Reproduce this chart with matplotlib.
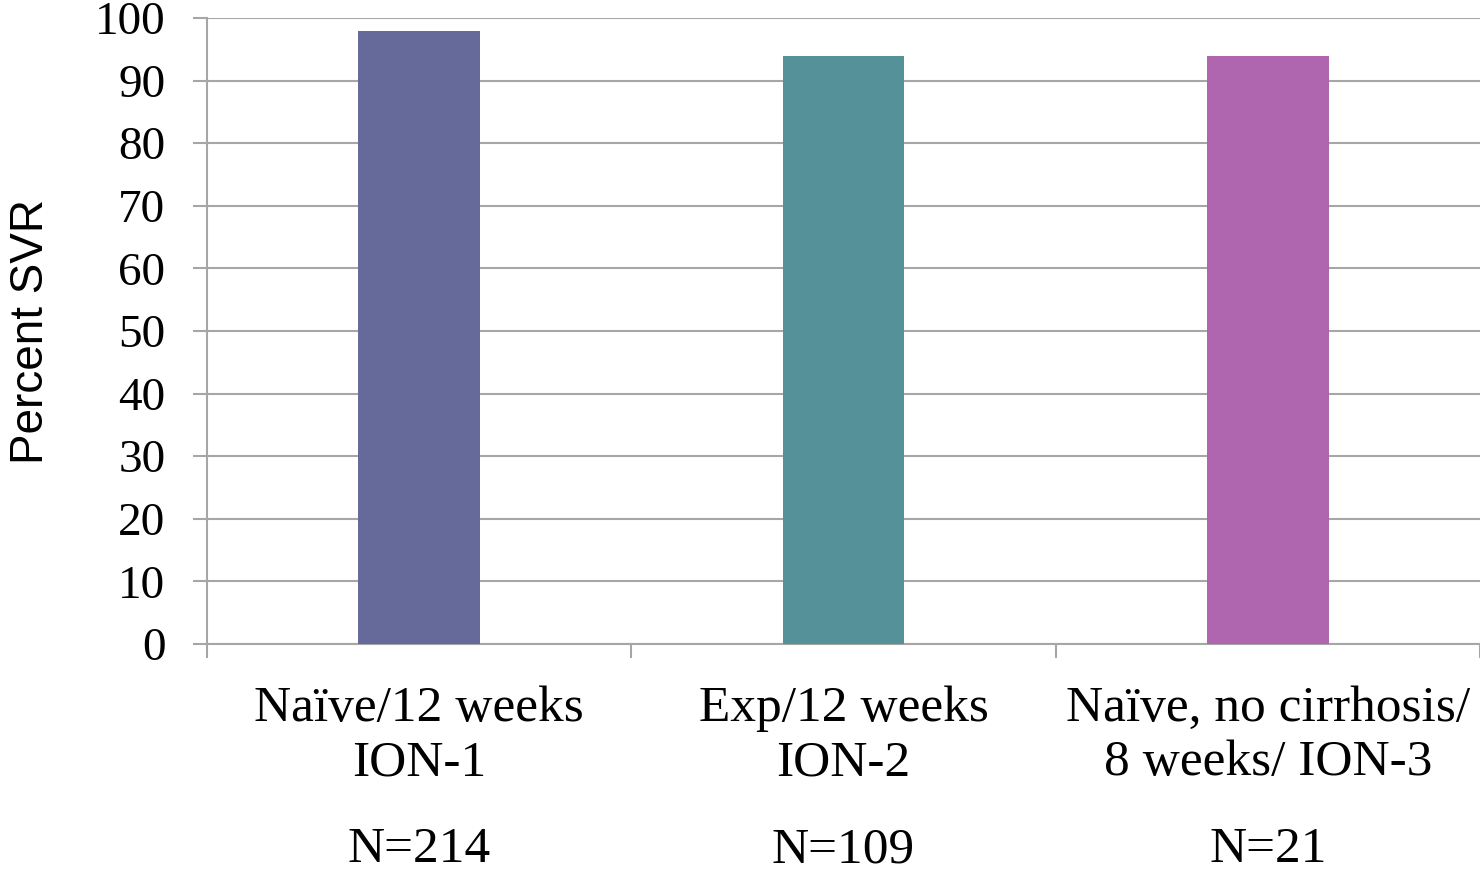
#!/usr/bin/env python3
"""Bar chart of SVR rates across the ION trials."""

import numpy as np
import matplotlib.pyplot as plt
from matplotlib import transforms

categories = ["Naïve/12 weeks\nION-1",
              "Exp/12 weeks\nION-2",
              "Naïve, no cirrhosis/\n8 weeks/ ION-3"]
n_patients = [214, 109, 21]
svr_percent = [98, 94, 94]
bar_colors = ["#666A9A", "#559199", "#B066AF"]
y_ticks = list(range(0, 101, 10))

grid_color = "#A6A6A6"
serif = "Liberation Serif"

fig = plt.figure(figsize=(14.8, 8.8), dpi=100)
ax = fig.add_axes([207 / 1480, 236 / 880, 1 - 207 / 1480, (644 - 18) / 880])

x = np.arange(len(categories))
ax.bar(x, svr_percent, width=0.287, color=bar_colors, zorder=3)

ax.set_xlim(-0.5, 2.5)
ax.set_ylim(0, 100)
ax.set_yticks(y_ticks)
ax.set_yticklabels([str(v) for v in y_ticks], fontsize=34, family=serif)
ax.yaxis.grid(True, color=grid_color, linewidth=1.5, zorder=0)

# category labels sit between boundary ticks
ax.set_xticks(x)
ax.set_xticklabels(categories, fontsize=37, family=serif, linespacing=1.22)
ax.set_xticks([-0.5, 0.5, 1.5, 2.5], minor=True)
ax.tick_params(axis="x", which="major", length=0, pad=30)
ax.tick_params(axis="x", which="minor", length=10, width=1.5, color=grid_color)
ax.tick_params(axis="y", length=10, width=1.5, color=grid_color, pad=20)

for side in ("top", "right"):
    ax.spines[side].set_visible(False)
for side in ("left", "bottom"):
    ax.spines[side].set_color(grid_color)
    ax.spines[side].set_linewidth(1.5)

ax.set_ylabel("Percent SVR", fontsize=33, family="Liberation Sans", labelpad=30)

# sample sizes below each category
trans = transforms.blended_transform_factory(ax.transData, fig.transFigure)
for xi, n in zip(x, n_patients):
    ax.text(xi, 30 / 880, f"N={n}", transform=trans, ha="center", va="center",
            fontsize=37, family=serif)

fig.savefig("out.png", dpi=100)
